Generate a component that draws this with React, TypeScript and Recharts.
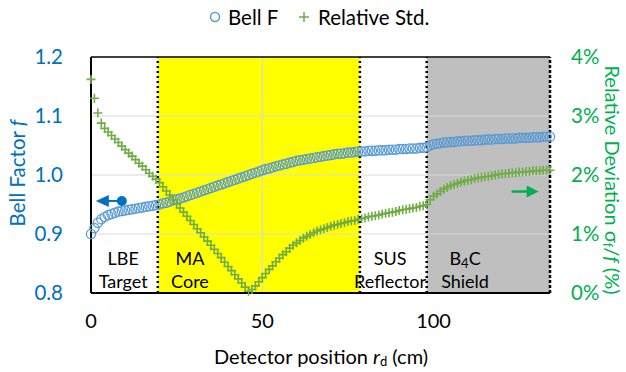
import React from "react";
import {
  ComposedChart,
  Line,
  XAxis,
  YAxis,
  ReferenceArea,
  ReferenceLine,
  ReferenceDot,
  Legend,
  Label,
} from "recharts";

const FONT = "Lato, 'Open Sans', sans-serif";
const BLUE_TXT = "#0070C0";
const GREEN_TXT = "#00B050";
const BLUE_MK = "#5B9BD5";
const GREEN_MK = "#70AD47";

// Detector position r_d (cm)
const positions = [
  0, 1, 2, 3, 4, 5, 6, 7, 8, 9, 10, 11, 12, 13, 14, 15, 16, 17, 18, 19,
  20, 21, 22, 23, 24, 25, 26, 27, 28, 29, 30, 31, 32, 33, 34, 35, 36, 37, 38, 39,
  40, 41, 42, 43, 44, 45, 46, 47, 48, 49, 50, 51, 52, 53, 54, 55, 56, 57, 58, 59,
  60, 61, 62, 63, 64, 65, 66, 67, 68, 69, 70, 71, 72, 73, 74, 75, 76, 77, 78, 79,
  80, 81, 82, 83, 84, 85, 86, 87, 88, 89, 90, 91, 92, 93, 94, 95, 96, 97, 98, 99,
  100, 101, 102, 103, 104, 105, 106, 107, 108, 109, 110, 111, 112, 113, 114, 115, 116, 117, 118, 119,
  120, 121, 122, 123, 124, 125, 126, 127, 128, 129, 130, 131, 132, 133, 134,
];

// Bell factor f
const bellF = [
  0.9, 0.91, 0.919, 0.925, 0.929, 0.932, 0.934, 0.936, 0.938, 0.939,
  0.94, 0.941, 0.942, 0.943, 0.944, 0.945, 0.946, 0.947, 0.948, 0.949,
  0.95, 0.952, 0.953, 0.955, 0.957, 0.959, 0.96, 0.962, 0.964, 0.966,
  0.968, 0.97, 0.972, 0.974, 0.976, 0.978, 0.98, 0.982, 0.984, 0.986,
  0.988, 0.99, 0.992, 0.994, 0.996, 0.998, 1.0, 1.002, 1.004, 1.006,
  1.008, 1.01, 1.011, 1.013, 1.015, 1.016, 1.018, 1.019, 1.021, 1.022,
  1.024, 1.025, 1.026, 1.027, 1.028, 1.029, 1.03, 1.031, 1.032, 1.033,
  1.034, 1.035, 1.036, 1.036, 1.037, 1.038, 1.038, 1.039, 1.04, 1.04,
  1.04, 1.041, 1.041, 1.041, 1.042, 1.042, 1.042, 1.043, 1.043, 1.043,
  1.044, 1.044, 1.044, 1.045, 1.045, 1.045, 1.046, 1.046, 1.047, 1.05,
  1.052, 1.053, 1.054, 1.055, 1.055, 1.056, 1.056, 1.057, 1.057, 1.058,
  1.058, 1.058, 1.059, 1.059, 1.059, 1.06, 1.06, 1.06, 1.061, 1.061,
  1.061, 1.062, 1.062, 1.062, 1.062, 1.063, 1.063, 1.063, 1.063, 1.064,
  1.064, 1.064, 1.065, 1.065, 1.065,
];

// Relative standard deviation (%)
const relStd = [
  3.62, 3.3, 3.05, 2.88, 2.79, 2.73, 2.67, 2.61, 2.55, 2.49,
  2.43, 2.37, 2.32, 2.26, 2.2, 2.15, 2.09, 2.03, 1.98, 1.93,
  1.87, 1.8, 1.73, 1.66, 1.58, 1.51, 1.44, 1.37, 1.3, 1.23,
  1.16, 1.09, 1.02, 0.95, 0.88, 0.81, 0.74, 0.67, 0.6, 0.52,
  0.45, 0.38, 0.31, 0.24, 0.17, 0.1, 0.03, 0.06, 0.12, 0.19,
  0.26, 0.33, 0.4, 0.46, 0.53, 0.59, 0.65, 0.7, 0.76, 0.81,
  0.85, 0.89, 0.93, 0.96, 0.99, 1.02, 1.05, 1.07, 1.09, 1.11,
  1.13, 1.15, 1.16, 1.18, 1.19, 1.21, 1.22, 1.23, 1.25, 1.26,
  1.27, 1.29, 1.3, 1.31, 1.32, 1.34, 1.35, 1.36, 1.37, 1.38,
  1.4, 1.41, 1.42, 1.43, 1.44, 1.45, 1.47, 1.48, 1.5, 1.58,
  1.64, 1.68, 1.72, 1.76, 1.79, 1.82, 1.84, 1.86, 1.88, 1.9,
  1.91, 1.92, 1.94, 1.95, 1.96, 1.97, 1.98, 1.99, 2.0, 2.01,
  2.02, 2.02, 2.03, 2.04, 2.04, 2.05, 2.05, 2.06, 2.06, 2.07,
  2.07, 2.07, 2.08, 2.08, 2.08,
];

const xTicks = [0, 50, 100];
const leftTicks = [0.8, 0.9, 1.0, 1.1, 1.2];
const rightTicks = [0, 1, 2, 3, 4];
const gridY = [0.9, 1.0, 1.1];
const gridX = [50];

// Regions (cm)
const regionBounds = [19.5, 78.5, 98];
const coreRegion = [19.5, 78.5];
const shieldRegion = [98, 134];
const xMax = 134;

const regionLabels = [
  { x: 9.4, top: "LBE", bottom: "Target" },
  { x: 28.9, top: "MA", bottom: "Core" },
  { x: 87.3, top: "SUS", bottom: "Reflector" },
  { x: 109.2, top: "B4C", bottom: "Shield" },
];

const data = positions.map((x, i) => ({ x, f: bellF[i], s: relStd[i] }));

const circleDot = (props: any) => {
  const { cx, cy, index } = props;
  if (cx == null || cy == null) return <g key={`c-${index}`} />;
  return (
    <circle
      key={`c-${index}`}
      cx={cx}
      cy={cy}
      r={4.6}
      fill="none"
      stroke={BLUE_MK}
      strokeWidth={1.3}
    />
  );
};

const plusDot = (props: any) => {
  const { cx, cy, index } = props;
  if (cx == null || cy == null) return <g key={`p-${index}`} />;
  return (
    <path
      key={`p-${index}`}
      d={`M${cx - 4.5},${cy}H${cx + 4.5}M${cx},${cy - 4.5}V${cy + 4.5}`}
      stroke={GREEN_MK}
      strokeWidth={1.6}
      fill="none"
    />
  );
};

const regionLabelShape = (top: string, bottom: string) => (props: any) => {
  const { cx, cy } = props;
  const topNode =
    top === "B4C" ? (
      <tspan x={cx} y={cy}>
        B<tspan dy={5} fontSize={13}>4</tspan>
        <tspan dy={-5}>C</tspan>
      </tspan>
    ) : (
      <tspan x={cx} y={cy}>
        {top}
      </tspan>
    );
  return (
    <text
      textAnchor="middle"
      fontFamily={FONT}
      fontSize={18}
      fill="#000"
      dominantBaseline="central"
    >
      {topNode}
      <tspan x={cx} y={cy + 23}>
        {bottom}
      </tspan>
    </text>
  );
};

const blueArrow = (props: any) => {
  const { cx, cy } = props;
  return (
    <g>
      <line x1={cx} y1={cy} x2={cx - 14} y2={cy} stroke={BLUE_TXT} strokeWidth={2} />
      <polygon
        points={`${cx - 26},${cy} ${cx - 13},${cy - 6} ${cx - 13},${cy + 6}`}
        fill={BLUE_TXT}
      />
      <circle cx={cx} cy={cy} r={5} fill={BLUE_TXT} />
    </g>
  );
};

const greenArrow = (props: any) => {
  const { cx, cy } = props;
  return (
    <g>
      <line x1={cx} y1={cy} x2={cx + 16} y2={cy} stroke={GREEN_TXT} strokeWidth={2.5} />
      <polygon
        points={`${cx + 27},${cy} ${cx + 15},${cy - 6} ${cx + 15},${cy + 6}`}
        fill={GREEN_TXT}
      />
    </g>
  );
};

const renderLegend = () => (
  <div style={{ position: "relative", height: 52, width: 626, fontFamily: FONT, fontSize: 20 }}>
    <svg width={626} height={30} style={{ position: "absolute", left: 0, top: 0 }}>
      <circle cx={215} cy={12} r={4.5} fill="none" stroke={BLUE_MK} strokeWidth={1.5} />
      <path d="M299,12H309M304,7V17" stroke={GREEN_MK} strokeWidth={1.5} />
      <text x={228} y={12} dominantBaseline="central" fontSize={20.5} fontFamily={FONT} fill="#000">
        Bell F
      </text>
      <text x={318} y={12} dominantBaseline="central" fontSize={20.5} fontFamily={FONT} fill="#000">
        Relative Std.
      </text>
    </svg>
  </div>
);

const leftTitle = () => (
  <text
    x={17}
    y={173}
    transform="rotate(-90 17 173)"
    textAnchor="middle"
    dominantBaseline="central"
    fill={BLUE_TXT}
    fontSize={20.5}
    fontFamily={FONT}
  >
    Bell Factor <tspan fontStyle="italic">f</tspan>
  </text>
);

const rightTitle = () => (
  <text
    x={613}
    y={180}
    transform="rotate(90 613 180)"
    textAnchor="middle"
    dominantBaseline="central"
    fill={GREEN_TXT}
    fontSize={20}
    fontFamily={FONT}
  >
    Relative Deviation σ<tspan dy={5} fontSize={13}>f</tspan>
    <tspan dy={-5}>/</tspan>
    <tspan fontStyle="italic">f</tspan> (%)
  </text>
);

const bottomTitle = () => (
  <text
    x={321}
    y={356}
    textAnchor="middle"
    dominantBaseline="central"
    fill="#000"
    fontSize={20}
    fontFamily={FONT}
  >
    Detector position <tspan fontStyle="italic">r</tspan>
    <tspan dy={5} fontSize={13}>d</tspan>
    <tspan dy={-5}> (cm)</tspan>
  </text>
);

export default function App() {
  return (
    <div style={{ position: "absolute", left: 0, top: 0, width: 626, height: 372, background: "#fff" }}>
      <ComposedChart
        width={626}
        height={372}
        data={data}
        margin={{ top: 5, right: 0, bottom: 0, left: 0 }}
      >
        <XAxis
          type="number"
          dataKey="x"
          domain={[0, xMax]}
          ticks={xTicks}
          tickSize={0}
          tickMargin={21}
          height={79}
          axisLine={{ stroke: "#000", strokeWidth: 2 }}
          tick={{ fill: "#000", fontSize: 20, fontFamily: FONT }}
        >
          <Label content={bottomTitle} />
        </XAxis>
        <YAxis
          yAxisId="left"
          domain={[0.8, 1.2]}
          ticks={leftTicks}
          tickFormatter={(v: number) => v.toFixed(1)}
          width={91}
          tickSize={0}
          tickMargin={28}
          axisLine={{ stroke: "#000", strokeWidth: 2 }}
          tick={{ fill: BLUE_TXT, fontSize: 20.5, fontFamily: FONT }}
        >
          <Label content={leftTitle} />
        </YAxis>
        <YAxis
          yAxisId="right"
          orientation="right"
          domain={[0, 4]}
          ticks={rightTicks}
          tickFormatter={(v: number) => `${v}%`}
          width={76}
          tickSize={0}
          tickMargin={21}
          axisLine={false}
          tick={{ fill: GREEN_TXT, fontSize: 20.5, fontFamily: FONT }}
        >
          <Label content={rightTitle} />
        </YAxis>
        <Legend verticalAlign="top" align="left" content={renderLegend} />

        <ReferenceArea
          yAxisId="left"
          x1={coreRegion[0]}
          x2={coreRegion[1]}
          fill="#FFFF00"
          fillOpacity={1}
          stroke="none"
        />
        <ReferenceArea
          yAxisId="left"
          x1={shieldRegion[0]}
          x2={shieldRegion[1]}
          fill="#BFBFBF"
          fillOpacity={1}
          stroke="none"
        />
        {gridY.map((v) => (
          <ReferenceLine key={`gy-${v}`} yAxisId="left" y={v} stroke="#D9D9D9" strokeWidth={1.2} />
        ))}
        {gridX.map((v) => (
          <ReferenceLine key={`gx-${v}`} yAxisId="left" x={v} stroke="#D9D9D9" strokeWidth={1.2} />
        ))}
        <ReferenceLine yAxisId="left" y={1.2} stroke="#404040" strokeWidth={2} />
        {regionBounds.map((v) => (
          <ReferenceLine
            key={`rb-${v}`}
            yAxisId="left"
            x={v}
            stroke="#000"
            strokeWidth={2.5}
            strokeDasharray="2 3"
          />
        ))}
        <ReferenceLine yAxisId="left" x={xMax} stroke="#000" strokeWidth={2.5} strokeDasharray="3 2" />

        {regionLabels.map((r) => (
          <ReferenceDot
            key={`rl-${r.top}`}
            yAxisId="left"
            x={r.x}
            y={0.859}
            r={0}
            shape={regionLabelShape(r.top, r.bottom)}
          />
        ))}

        <Line
          yAxisId="left"
          dataKey="f"
          stroke="none"
          dot={circleDot}
          activeDot={false}
          isAnimationActive={false}
          legendType="none"
        />
        <Line
          yAxisId="right"
          dataKey="s"
          stroke="none"
          dot={plusDot}
          activeDot={false}
          isAnimationActive={false}
          legendType="none"
        />

        <ReferenceDot yAxisId="left" x={9.0} y={0.956} r={0} shape={blueArrow} />
        <ReferenceDot yAxisId="right" x={122.8} y={1.72} r={0} shape={greenArrow} />
      </ComposedChart>
    </div>
  );
}
